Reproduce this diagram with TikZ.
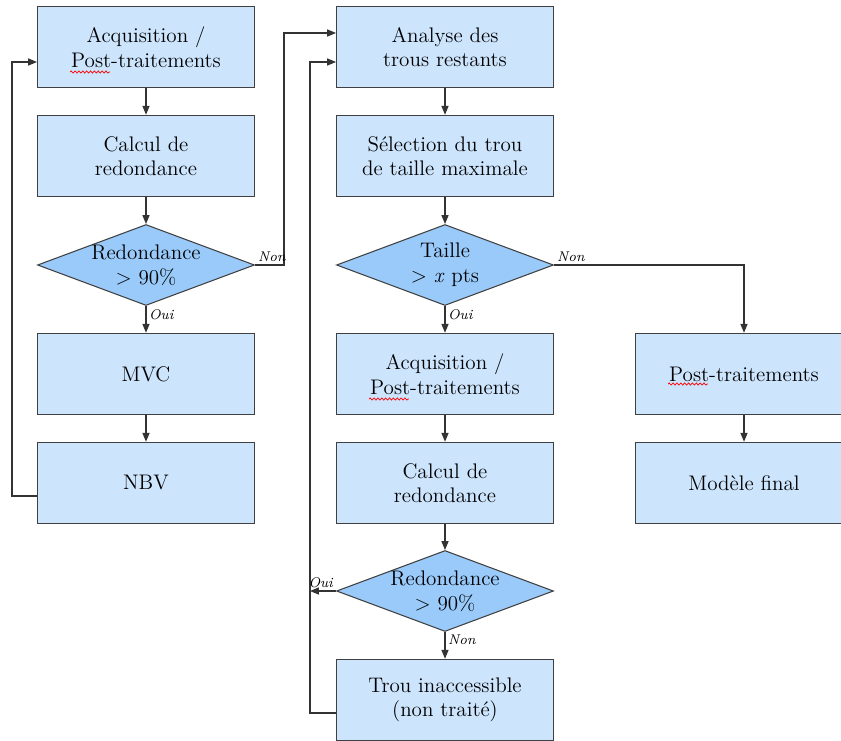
\documentclass[tikz,border=0pt]{standalone}
\usetikzlibrary{shapes.geometric,arrows.meta,decorations.pathmorphing}

\definecolor{boxblue}{RGB}{204,228,252}
\definecolor{diamblue}{RGB}{153,202,250}

\tikzset{
  boite/.style={draw=black!75, line width=0.6pt, fill=boxblue,
    minimum width=4.34cm, minimum height=1.63cm, align=center,
    font=\fontsize{12}{14}\selectfont},
  test/.style={diamond, draw=black!75, line width=0.6pt, fill=diamblue,
    aspect=2.68, minimum width=4.34cm, minimum height=1.62cm,
    inner sep=-3pt, align=center, font=\fontsize{12}{14}\selectfont},
  fleche/.style={draw=black!80, line width=0.6pt,
    -{Triangle[length=5pt,width=4pt]}},
  rep/.style={font=\fontsize{8}{9}\selectfont\itshape, inner sep=1.5pt},
  faute/.style={red, line width=0.4pt,
    decorate, decoration={snake, segment length=2.2pt, amplitude=0.6pt}}
}

\begin{document}
\begin{tikzpicture}[x=0.02cm, y=-0.02cm]
    \clip (0,0) rectangle (841,740);
    \fill[white] (0,0) rectangle (841,740);

    % Left column
    \node[boite] (acqA) at (146,47) {Acquisition /\\ Post-traitements};
    \node[boite] (calcA) at (146,156) {Calcul de\\ redondance};
    \node[test] (redA) at (146,265) {Redondance\\ $>$ 90\%};
    \node[boite] (mvc) at (146,374) {MVC};
    \node[boite] (nbv) at (146,483) {NBV};

    % Middle column
    \node[boite] (ana) at (445,47) {Analyse des\\ trous restants};
    \node[boite] (sel) at (445,156) {Sélection du trou\\ de taille maximale};
    \node[test] (taille) at (445,265) {Taille\\ $>$ \textit{x} pts};
    \node[boite] (acqB) at (445,374) {Acquisition /\\ Post-traitements};
    \node[boite] (calcB) at (445,483) {Calcul de\\ redondance};
    \node[test] (redB) at (445,591) {Redondance\\ $>$ 90\%};
    \node[boite] (trou) at (445,700) {Trou inaccessible\\ (non traité)};

    % Right column
    \node[boite] (post) at (744,374) {Post-traitements};
    \node[boite] (final) at (744,483) {Modèle final};

    % Spell checker marks under "Post"
    \draw[faute] ([xshift=-76*0.02cm, yshift=-25*0.02cm]acqA.center) -- ++(40,0);
    \draw[faute] ([xshift=-76*0.02cm, yshift=-25*0.02cm]acqB.center) -- ++(40,0);
    \draw[faute] ([xshift=-76*0.02cm, yshift=-10*0.02cm]post.center) -- ++(40,0);

    % Corners of the loops
    \coordinate (g1) at (12,496);
    \coordinate (g2) at (12,62);
    \coordinate (n1) at (284,33);
    \coordinate (h1) at (310,713);
    \coordinate (h2) at (310,62);

    % Straight arrows
    \foreach \a/\b in {acqA/calcA, calcA/redA, mvc/nbv, ana/sel, sel/taille,
                       acqB/calcB, calcB/redB, post/final}
    \draw[fleche] (\a) -- (\b);

    % Yes / no branches
    \draw[fleche] (redA.south) -- node[rep, pos=0, anchor=north west] (ouiA) {Oui} (mvc.north);
    \draw[fleche] (redA.east) node[rep, anchor=south west] (nonA) {Non}
      -| (n1) -- (ana.west |- n1);
    \draw[fleche] (taille.south) -- node[rep, pos=0, anchor=north west] (ouiB) {Oui} (acqB.north);
    \draw[fleche] (taille.east) node[rep, anchor=south west] (nonB) {Non}
      -| (post.north);
    \draw[fleche] (redB.south) -- node[rep, pos=0, anchor=north west] (nonC) {Non} (trou.north);
    \draw[fleche] (redB.west) node[rep, anchor=south east] (ouiC) {Oui}
      -- (redB.west -| h1);

    % Loops back
    \draw[fleche] (nbv.west |- g1) -- (g1) -- (g2) -- (acqA.west |- g2);
    \draw[fleche] (trou.west |- h1) -- (h1) -- (h2) -- (ana.west |- h2);

\end{tikzpicture}
\end{document}
